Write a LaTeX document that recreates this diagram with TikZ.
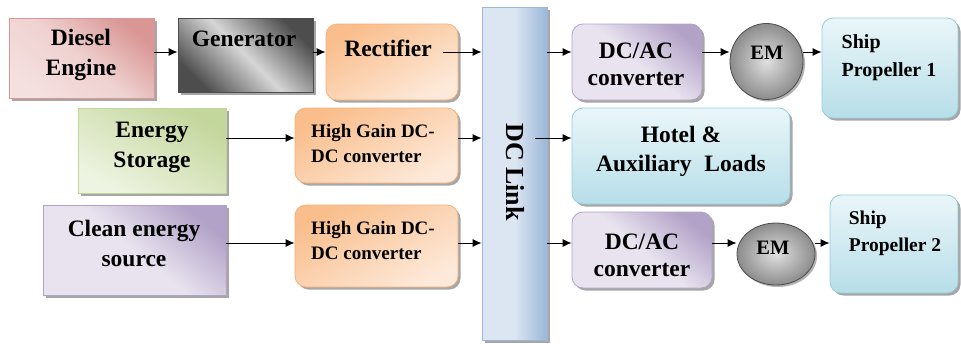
\documentclass[tikz,border=0pt]{standalone}
\usepackage{fontspec}
\setmainfont{Liberation Serif}[BoldFont={Liberation Serif Bold}]
\usetikzlibrary{arrows.meta,shadows,shapes.geometric}
\definecolor{pinkD}{HTML}{D99694}
\definecolor{pinkL}{HTML}{F4E0DF}
\definecolor{grayD}{HTML}{4D4D4D}
\definecolor{grayL}{HTML}{D6D6D6}
\definecolor{orD}{HTML}{F9BE8C}
\definecolor{orL}{HTML}{FDE9D9}
\definecolor{orB}{HTML}{F5B07A}
\definecolor{grD}{HTML}{C3D69B}
\definecolor{grL}{HTML}{EEF4E2}
\definecolor{puD}{HTML}{B3A2C7}
\definecolor{puL}{HTML}{E8E3EF}
\definecolor{blD}{HTML}{B7DEE8}
\definecolor{blL}{HTML}{EAF6F9}
\definecolor{blB}{HTML}{93CDDD}
\definecolor{lkD}{HTML}{9BB7D9}
\definecolor{lkL}{HTML}{DCE6F2}
\definecolor{emL}{HTML}{E0E0E0}
\definecolor{emD}{HTML}{8C8C8C}
\begin{document}
\begin{tikzpicture}[x=1pt,y=-1pt,
  box/.style={draw, line width=0.8pt, inner sep=0pt,
    drop shadow={shadow xshift=2.5pt,shadow yshift=-2.5pt,opacity=0.35,fill=black}},
  rbox/.style={box, rounded corners=11pt},
  txt/.style={font=\rmfamily\fontsize{23.5}{30}\selectfont\bfseries, align=center, inner sep=0pt},
  stxt/.style={font=\rmfamily\fontsize{19}{25}\selectfont\bfseries, align=left, inner sep=0pt},
  ptxt/.style={font=\rmfamily\fontsize{20}{28}\selectfont\bfseries, align=left, inner sep=0pt},
  arr/.style={-{Latex[length=9pt,width=8pt]}, line width=1pt, black},
  em/.style={ellipse, draw=gray!60!black, line width=0.8pt, inner color=emL, outer color=emD, inner sep=0pt,
    drop shadow={shadow xshift=2pt,shadow yshift=-2pt,opacity=0.3,fill=black}}
]
\useasboundingbox (0,0) rectangle (961,343);
\coordinate (r1) at (0,52);
\coordinate (r2) at (0,138);
\coordinate (r3) at (0,243);

% left column
\node[box, draw=pinkD, top color=pinkD, bottom color=pinkL, middle color=pinkL!80!pinkD, shading angle=-40,
  minimum width=145pt, minimum height=80pt] (de) at (81.5,58) {};
\node[txt] (deT) at (81,55) {Diesel\\Engine};

\node[box, draw=gray!60!black, left color=grayD, right color=grayD, middle color=grayL, shading angle=135,
  minimum width=135pt, minimum height=74pt] (gen) at (245.5,55) {};
\node[txt] (genT) at (244,39) {Generator};

\node[rbox, draw=orB, top color=orD, bottom color=orL, shading angle=30,
  minimum width=132pt, minimum height=76pt] (rect) at (392,62) {};
\node[txt] (rectT) at (388,48) {Rectifier};

\node[box, draw=grD, top color=grD, bottom color=grL, shading angle=-30,
  minimum width=148pt, minimum height=85pt] (es) at (152,150.5) {};
\node[txt] (esT) at (152,147) {Energy\\Storage};

\node[rbox, draw=orB, top color=orD, bottom color=orL, shading angle=30,
  minimum width=163pt, minimum height=75pt] (hg1) at (376.5,145.5) {};
\node[stxt] (hg1T) at (373,143) {High Gain DC-\\DC converter};

\node[box, draw=puD, top color=puD, bottom color=puL, middle color=puL, shading angle=-40,
  minimum width=183pt, minimum height=90pt] (ce) at (134.5,250) {};
\node[txt] (ceT) at (134,243) {Clean energy\\source};

\node[rbox, draw=orB, top color=orD, bottom color=orL, shading angle=30,
  minimum width=163pt, minimum height=82pt] (hg2) at (376.5,246) {};
\node[stxt] (hg2T) at (373,240) {High Gain DC-\\DC converter};

% DC link
\node[box, draw=lkD, left color=lkL, right color=lkD, middle color=lkL,
  minimum width=65pt, minimum height=333pt] (dc) at (514.5,173.5) {};
\node[font=\rmfamily\fontsize{26}{30}\selectfont\bfseries, rotate=-90, inner sep=0pt] (dcT) at (515,172) {DC Link};

% right column
\node[rbox, draw=puD, top color=puD, bottom color=puL, middle color=puL, shading angle=-40,
  minimum width=130pt, minimum height=76pt] (ac1) at (637,62) {};
\node[txt, font=\rmfamily\fontsize{23.5}{27}\selectfont\bfseries] (ac1T) at (636,64) {DC/AC\\converter};

\node[em, minimum width=73pt, minimum height=76pt] (em1) at (766.5,61.5) {};
\node[font=\rmfamily\fontsize{20.5}{24}\selectfont\bfseries, inner sep=0pt] (em1T) at (767,53) {EM};

\node[rbox, draw=blB, top color=blL, bottom color=blD, shading angle=0,
  minimum width=136pt, minimum height=100pt] (sp1) at (890,68) {};
\node[ptxt] (sp1T) at (889,58) {Ship\\Propeller 1};

\node[rbox, draw=blB, top color=blL, bottom color=blD,
  minimum width=218pt, minimum height=96pt] (hot) at (681,156) {};
\node[txt, font=\rmfamily\fontsize{23.5}{29}\selectfont\bfseries] (hotT) at (681,151) {Hotel \&\\Auxiliary\hspace{0.3em} Loads};

\node[rbox, draw=puD, top color=puD, bottom color=puL, middle color=puL, shading angle=-40,
  minimum width=140pt, minimum height=76pt] (ac2) at (642,250) {};
\node[txt, font=\rmfamily\fontsize{23.5}{27}\selectfont\bfseries] (ac2T) at (642,255) {DC/AC\\converter};

\node[em, minimum width=78pt, minimum height=62pt] (em2) at (776,254) {};
\node[font=\rmfamily\fontsize{20.5}{24}\selectfont\bfseries, inner sep=0pt] (em2T) at (773,248) {EM};

\node[rbox, draw=blB, top color=blL, bottom color=blD,
  minimum width=128pt, minimum height=98pt] (sp2) at (894,244) {};
\node[ptxt, font=\rmfamily\fontsize{19.5}{27}\selectfont\bfseries] (sp2T) at (895,233) {Ship\\Propeller 2};

% connectors
\draw[arr] (de.east |- r1) -- (gen.west |- r1);
\draw[arr] (gen.east |- r1) -- (rect.west |- r1);
\draw[arr] ([xshift=-15pt]rect.east |- r1) -- (dc.west |- r1);
\draw[arr] (es.east |- r2) -- (hg1.west |- r2);
\draw[arr] (hg1.east |- r2) -- (dc.west |- r2);
\draw[arr] (ce.east |- r3) -- (hg2.west |- r3);
\draw[arr] (hg2.east |- r3) -- (dc.west |- r3);
\draw[arr] (dc.east |- r1) -- (ac1.west |- r1);
\draw[arr] (ac1.east |- r1) -- (em1.west |- r1);
\draw[arr] (em1.east |- r1) -- (sp1.west |- r1);
\draw[arr] ([xshift=-12pt]dc.east |- r2) -- (hot.west |- r2);
\draw[arr] (dc.east |- r3) -- (ac2.west |- r3);
\draw[arr] (ac2.east |- r3) -- (em2.west |- r3);
\draw[arr] (em2.east |- r3) -- (sp2.west |- r3);
\end{tikzpicture}
\end{document}
